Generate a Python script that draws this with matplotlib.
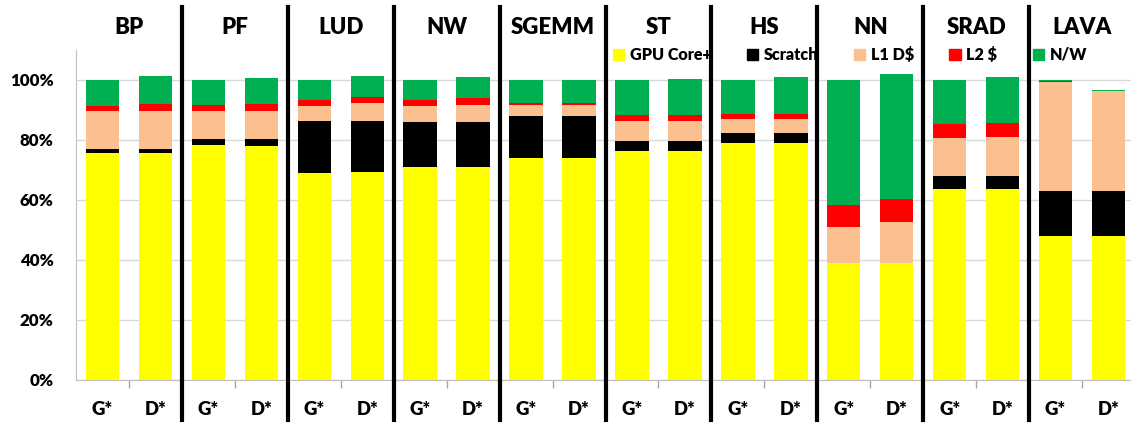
import matplotlib
matplotlib.use('Agg')
import matplotlib.pyplot as plt
from matplotlib.patches import Patch
import numpy as np

# Benchmarks and the two configurations shown for each
benchmarks = ["BP", "PF", "LUD", "NW", "SGEMM", "ST", "HS", "NN", "SRAD", "LAVA"]
configs = ["G*", "D*"]

# Energy breakdown (%), one value per bar: G*, D* for each benchmark in turn
gpu_core = [75.7, 75.7, 78.2, 78.1, 69.1, 69.2, 71.1, 71.1, 73.9, 73.9,
            76.3, 76.3, 79.0, 79.1, 39.1, 39.1, 63.7, 63.7, 48.1, 48.1]
scratch = [1.4, 1.4, 2.1, 2.2, 17.1, 17.0, 15.0, 15.0, 14.1, 14.1,
           3.4, 3.4, 3.3, 3.2, 0.0, 0.0, 4.2, 4.2, 15.0, 15.0]
l1_d = [12.7, 12.7, 9.4, 9.4, 5.1, 6.0, 5.3, 5.5, 3.7, 3.7,
        6.6, 6.6, 4.6, 4.6, 11.9, 13.7, 12.9, 13.1, 36.1, 33.3]
l2 = [1.6, 2.3, 2.0, 2.4, 2.0, 2.1, 2.0, 2.4, 0.6, 0.6,
      1.9, 1.9, 1.7, 1.9, 7.3, 7.4, 4.4, 4.8, 0.4, 0.0]
nw = [8.6, 9.3, 8.3, 8.5, 6.7, 7.0, 6.6, 7.1, 7.7, 7.7,
      11.8, 12.0, 11.4, 12.1, 41.7, 41.9, 14.8, 15.1, 0.4, 0.3]

series = [("GPU Core+", gpu_core, "#FFFF00"),
          ("Scratch", scratch, "#000000"),
          ("L1 D$", l1_d, "#FAC090"),
          ("L2 $", l2, "#FF0000"),
          ("N/W", nw, "#00B050")]

plt.rcParams['font.family'] = ['Lato', 'DejaVu Sans']
plt.rcParams['font.weight'] = 'heavy'

W, H = 1131, 426
fig = plt.figure(figsize=(W / 100, H / 100), dpi=100)
ax = fig.add_axes([76 / W, 46 / H, 1059 / W, 330 / H])

x = np.arange(len(benchmarks) * len(configs))
bottom = np.zeros(len(x))
for name, vals, color in series:
    vals = np.array(vals)
    ax.bar(x, vals, width=0.63, bottom=bottom, color=color, label=name, zorder=3)
    bottom += vals

ax.set_xlim(-0.5, len(x) - 0.5)
ax.set_ylim(0, 110)
ax.set_yticks(np.arange(0, 101, 20))
ax.set_yticklabels([f"{v}%" for v in range(0, 101, 20)], fontsize=12.2, fontweight='heavy')
ax.tick_params(axis='y', length=0, pad=16)
ax.yaxis.grid(True, color='#D9D9D9', linewidth=1, zorder=0)

ax.set_xticks(x)
ax.set_xticklabels(configs * len(benchmarks), fontsize=13.3, fontweight='heavy')
ax.tick_params(axis='x', which='major', length=0, pad=15)
ax.set_xticks(np.arange(0.5, len(x), 2), minor=True)
ax.tick_params(axis='x', which='minor', length=6, color='#A6A6A6', width=1)

for side in ['top', 'right']:
    ax.spines[side].set_visible(False)
for side in ['left', 'bottom']:
    ax.spines[side].set_color('#BFBFBF')

# Group separators and benchmark names
for i, name in enumerate(benchmarks):
    ax.text(2 * i + 0.5, 1.068, name, transform=ax.get_xaxis_transform(),
            ha='center', va='center', fontsize=16, fontweight='heavy')
    if i > 0:
        ax.axvline(2 * i - 0.5, ymin=-0.121, ymax=1.13, color='black',
                   linewidth=3, clip_on=False, zorder=5)

handles = [Patch(color=c, label=n) for n, _, c in series]
fig.legend(handles=handles, loc='center', bbox_to_anchor=(850 / W, 1 - 55 / H),
           ncol=5, frameon=False, handlelength=0.7, handleheight=0.7,
           handletextpad=0.35, columnspacing=2.2, borderpad=0,
           prop={'size': 11.6, 'weight': 'heavy'})

fig.savefig("out.png", dpi=100)
